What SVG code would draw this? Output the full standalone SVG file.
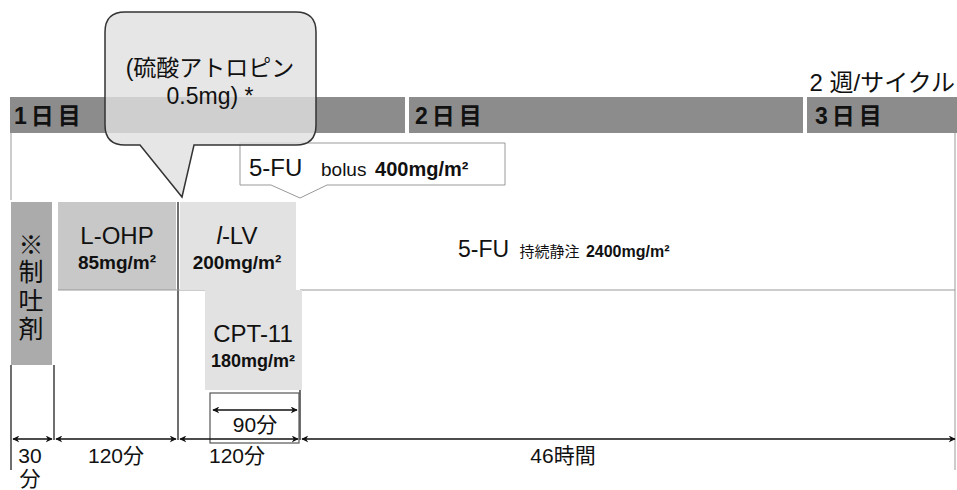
<svg xmlns="http://www.w3.org/2000/svg" width="957" height="490" viewBox="0 0 957 490">
<defs>
<style>
text{font-family:"Liberation Sans","Noto Sans CJK JP",sans-serif;fill:#111}
.b{font-weight:bold}
.ln{stroke:#222;stroke-width:1.3;fill:none}
.gl{stroke:#999;stroke-width:1;fill:none}
.ar{stroke:#111;stroke-width:1.3;fill:none;marker-start:url(#ah);marker-end:url(#ah)}
.day{font-size:23px;font-weight:bold;letter-spacing:4px}
</style>
<marker id="ah" viewBox="0 0 10 10" refX="9" refY="5" markerWidth="7" markerHeight="7" orient="auto-start-reverse" markerUnits="userSpaceOnUse"><path d="M0,0 L10,5 L0,10 L3,5 z" fill="#111"/></marker>
</defs>
<rect width="957" height="490" fill="#fff"/>
<g id="day-bar">
<rect x="10" y="97" width="395" height="36" fill="#8c8c8c"/>
<rect x="409" y="97" width="394" height="36" fill="#8c8c8c"/>
<rect x="807" y="97" width="150" height="36" fill="#8c8c8c"/>
<text x="14" y="124" class="day">1日目</text>
<text x="415" y="124" class="day">2日目</text>
<text x="815" y="124" class="day">3日目</text>
<text x="955" y="91" font-size="24" text-anchor="end">2 週/サイクル</text>
</g>
<g id="frame">
<path class="gl" d="M11,133 V200 M955,133 V470 M300,290 H955"/>
<path class="ln" d="M11,365 V470 M54,365 V440 M178,202 V440 M300,390 V440"/>
</g>
<g id="antiemetic">
<rect x="11" y="202" width="41" height="163" fill="#ababab"/>
<text x="31" y="254" font-size="25" text-anchor="middle">※</text>
<text x="31" y="281" font-size="25" text-anchor="middle">制</text>
<text x="31" y="310" font-size="25" text-anchor="middle">吐</text>
<text x="31" y="338" font-size="25" text-anchor="middle">剤</text>
</g>
<g id="lohp">
<rect x="58" y="202" width="118" height="88" fill="#c8c8c8"/>
<path class="gl" d="M58,290 H205"/>
<text x="117" y="244" font-size="24" text-anchor="middle">L-OHP</text>
<text x="117" y="269" font-size="19" class="b" text-anchor="middle">85mg/m²</text>
</g>
<g id="llv">
<rect x="180" y="202" width="116" height="88" fill="#e2e2e2"/>
<text x="237" y="244" font-size="24" text-anchor="middle"><tspan font-style="italic">l</tspan>-LV</text>
<text x="237" y="269" font-size="19" class="b" text-anchor="middle">200mg/m²</text>
</g>
<g id="cpt11">
<rect x="205" y="290" width="97" height="100" fill="#e2e2e2"/>
<text x="253" y="342" font-size="24" text-anchor="middle">CPT-11</text>
<text x="253" y="367" font-size="18" class="b" text-anchor="middle">180mg/m²</text>
</g>
<g id="fu-continuous">
<text x="458" y="257" font-size="23">5-FU <tspan font-size="15" dx="4">持続静注</tspan> <tspan font-size="16" class="b">2400mg/m²</tspan></text>
</g>
<g id="fu-bolus">
<path d="M240,143 H505 V185 H327 L300,198 L271,185 H240 Z" fill="#fff" stroke="#999" stroke-width="1"/>
<text x="249" y="176" font-size="24">5-FU <tspan font-size="19" dx="12">bolus</tspan> <tspan font-size="20" class="b" dx="2">400mg/m²</tspan></text>
</g>
<g id="atropine">
<path d="M125,12 H296 Q316,12 316,32 V125 Q316,145 296,145 H194 L182,197 L140,145 H125 Q105,145 105,125 V32 Q105,12 125,12 Z" fill="#e0e0e0" fill-opacity="0.8" stroke="#333" stroke-width="1.5"/>
<text x="210" y="76" font-size="23" text-anchor="middle">(硫酸アトロピン</text>
<text x="210" y="104" font-size="23" text-anchor="middle">0.5mg) *</text>
</g>
<g id="connectors">
<rect x="210" y="393" width="89" height="50" fill="none" stroke="#555" stroke-width="1.2"/>
<line class="ar" x1="213" y1="410" x2="297" y2="410"/>
<line class="ar" x1="13" y1="439" x2="52" y2="439"/>
<line class="ar" x1="56" y1="439" x2="176" y2="439"/>
<line class="ar" x1="180" y1="439" x2="298" y2="439"/>
<line class="ar" x1="302" y1="439" x2="955" y2="439"/>
</g>
<g id="labels">
<text x="255" y="432" font-size="21" text-anchor="middle">90分</text>
<text x="30" y="463" font-size="21" text-anchor="middle">30</text>
<text x="30" y="486" font-size="21" text-anchor="middle">分</text>
<text x="116" y="463" font-size="21" text-anchor="middle">120分</text>
<text x="237" y="463" font-size="21" text-anchor="middle">120分</text>
<text x="563" y="463" font-size="21" text-anchor="middle">46時間</text>
</g>
</svg>
